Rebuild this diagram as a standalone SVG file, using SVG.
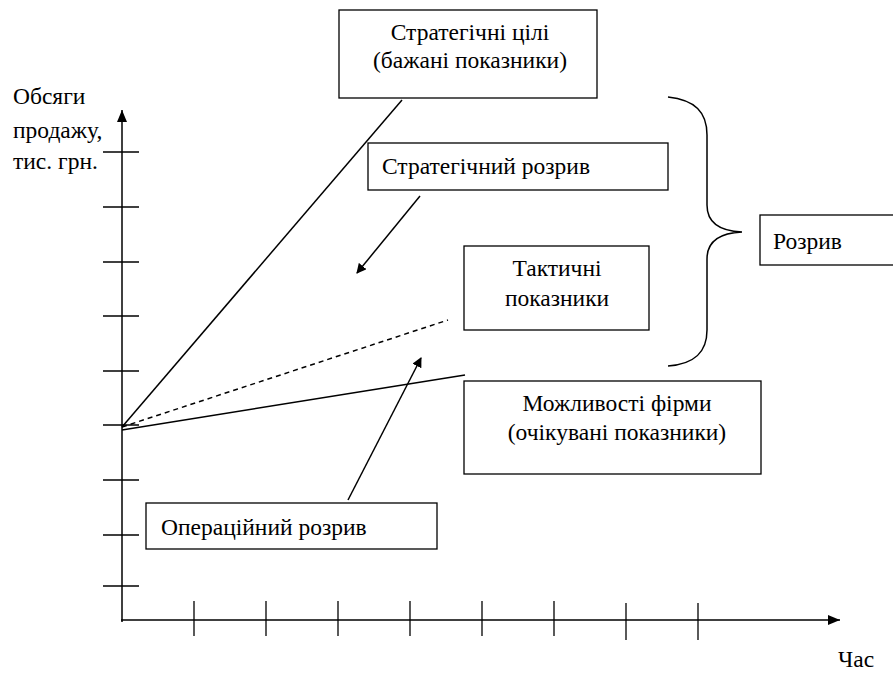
<svg xmlns="http://www.w3.org/2000/svg" width="893" height="673" viewBox="0 0 893 673">
<style>
text{font-family:'Liberation Serif','Times New Roman',serif;font-size:23.5px;fill:#000}
.box{fill:#fff;stroke:#000;stroke-width:1.3}
.ln{stroke:#000;stroke-width:1.5;fill:none}
.tk{stroke:#000;stroke-width:1.3}
</style>
<defs>
<marker id="ah" viewBox="0 0 10 10" refX="9" refY="5" markerWidth="10" markerHeight="10" markerUnits="userSpaceOnUse" orient="auto">
<path d="M0,0 L10,5 L0,10 z" fill="#000"/>
</marker>
<marker id="ax" viewBox="0 0 12 10" refX="12" refY="5" markerWidth="12" markerHeight="10" markerUnits="userSpaceOnUse" orient="auto">
<path d="M0,0 L12,5 L0,10 z" fill="#000"/>
</marker>
</defs>
<g id="axes">
<line class="ln" x1="122" y1="622" x2="122" y2="110" marker-end="url(#ax)"/>
<line class="ln" x1="121" y1="620" x2="840" y2="620" marker-end="url(#ax)"/>
<g class="tk">
<line x1="103" y1="152" x2="139" y2="152"/>
<line x1="103" y1="207" x2="139" y2="207"/>
<line x1="103" y1="262" x2="139" y2="262"/>
<line x1="103" y1="316" x2="139" y2="316"/>
<line x1="103" y1="371" x2="139" y2="371"/>
<line x1="103" y1="425" x2="139" y2="425"/>
<line x1="103" y1="480" x2="139" y2="480"/>
<line x1="103" y1="535" x2="139" y2="535"/>
<line x1="103" y1="586" x2="139" y2="586"/>
<line x1="194" y1="601" x2="194" y2="636"/>
<line x1="266" y1="601" x2="266" y2="636"/>
<line x1="338" y1="601" x2="338" y2="636"/>
<line x1="410" y1="601" x2="410" y2="636"/>
<line x1="482" y1="601" x2="482" y2="636"/>
<line x1="554" y1="601" x2="554" y2="636"/>
<line x1="626" y1="603" x2="626" y2="640"/>
<line x1="698" y1="603" x2="698" y2="640"/>
</g>
<text x="13" y="104">Обсяги</text>
<text x="13" y="138">продажу,</text>
<text x="13" y="169">тис. грн.</text>
<text x="838" y="667">Час</text>
</g>
<g id="connectors">
<line class="ln" x1="122" y1="427" x2="402" y2="100"/>
<line class="ln" x1="122" y1="427" x2="448" y2="320" stroke-dasharray="5,4"/>
<line class="ln" x1="122" y1="430" x2="465" y2="375"/>
<line class="ln" x1="420" y1="196" x2="357" y2="273" marker-end="url(#ah)"/>
<line class="ln" x1="348" y1="500" x2="421" y2="358" marker-end="url(#ah)"/>
<path class="ln" d="M668,97 C695,100 707,112 707,135 L707,205 C707,222 718,231 742,232 C718,233 707,242 707,259 L707,330 C707,352 695,364 668,366"/>
</g>
<g id="strategic-goals">
<rect class="box" x="339" y="10" width="258" height="88"/>
<text x="470" y="40" text-anchor="middle">Стратегічні цілі</text>
<text x="470" y="68" text-anchor="middle">(бажані показники)</text>
</g>
<g id="strategic-gap">
<rect class="box" x="368" y="143" width="300" height="47"/>
<text x="382" y="174">Стратегічний розрив</text>
</g>
<g id="tactical">
<rect class="box" x="464" y="246" width="185" height="84"/>
<text x="557" y="276" text-anchor="middle">Тактичні</text>
<text x="557" y="306" text-anchor="middle">показники</text>
</g>
<g id="gap">
<rect class="box" x="760" y="215" width="140" height="50"/>
<text x="773" y="249">Розрив</text>
</g>
<g id="capabilities">
<rect class="box" x="464" y="381" width="297" height="93"/>
<text x="617" y="411" text-anchor="middle">Можливості фірми</text>
<text x="617" y="440" text-anchor="middle">(очікувані показники)</text>
</g>
<g id="operational-gap">
<rect class="box" x="146" y="503" width="291" height="46"/>
<text x="161" y="535">Операційний розрив</text>
</g>
</svg>
